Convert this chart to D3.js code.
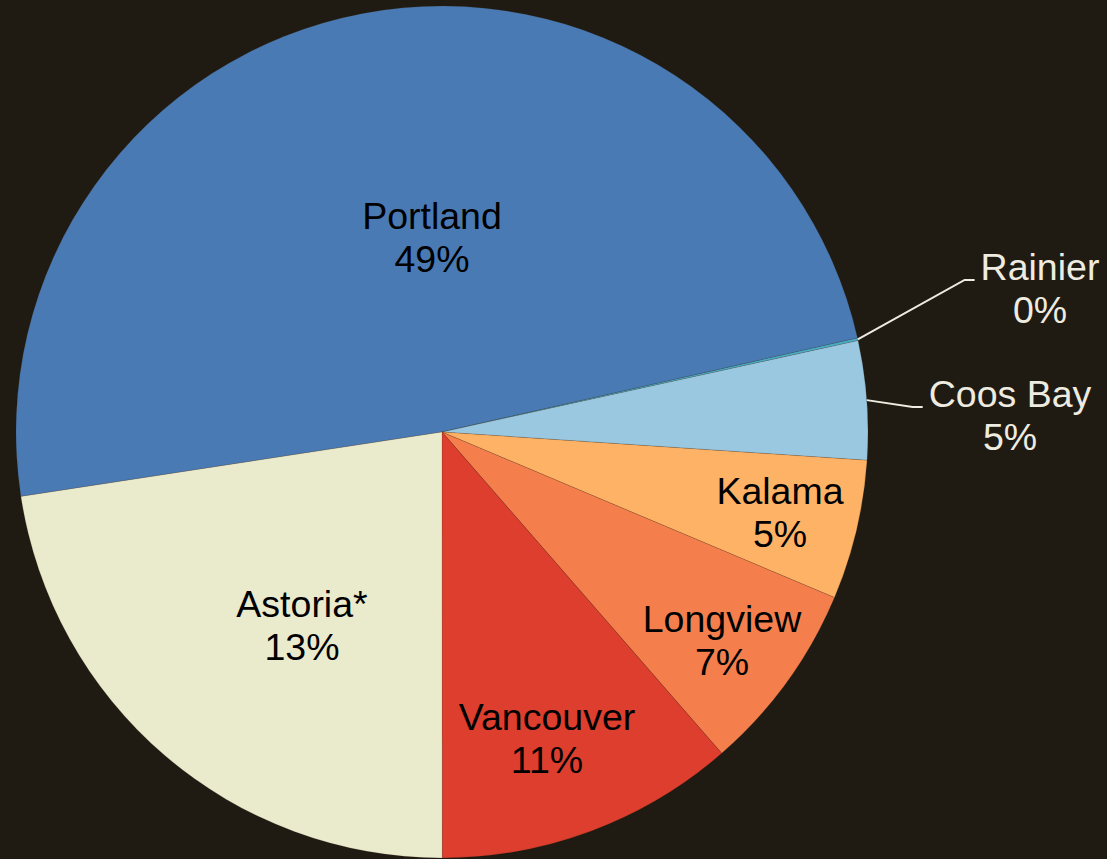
<!DOCTYPE html>
<html>
<head>
<meta charset="utf-8">
<script src="https://cdn.jsdelivr.net/npm/d3@7"></script>
<style>
  html, body { margin: 0; padding: 0; background: #1f1b12; }
  svg { display: block; }
</style>
</head>
<body>
<svg id="chart"></svg>
<script>
// slice data, clockwise starting with Portland
var ports = ["Portland", "Rainier", "Coos Bay", "Kalama", "Longview", "Vancouver", "Astoria*"];
var shares = [48.9, 0.1, 4.5, 5.3, 7.25, 11.4, 22.6];
var pctLabels = ["49%", "0%", "5%", "5%", "7%", "11%", "13%"];
var colors = ["#4a7ab4", "#4bacc6", "#9bc8e1", "#fdb266", "#f47f4d", "#dd3e2e", "#eaeacd"];

// label anchors (first line baseline) relative to pie centre
var labelPos = [[-10, -203], [598, -152], [568, -25], [338, 72], [280, 200], [105, 298], [-140, 185]];
var outside = [false, true, true, false, false, false, false];

var width = 1107, height = 859;
var cx = 442, cy = 432, radius = 426;
var lineGap = 42.5;

var svg = d3.select("#chart")
    .attr("width", width)
    .attr("height", height);

svg.append("rect")
    .attr("width", width)
    .attr("height", height)
    .style("fill", "#1f1b12");

var start = 261.3 * Math.PI / 180;
var pie = d3.pie()
    .sort(null)
    .startAngle(start)
    .endAngle(start + 2 * Math.PI)
    .value(function(d) { return d; });

var arc = d3.arc()
    .innerRadius(0)
    .outerRadius(radius);

var arcs = pie(shares);

var g = svg.append("g")
    .attr("transform", "translate(" + cx + "," + cy + ")");

g.selectAll("path.slice")
    .data(arcs)
    .enter()
    .append("path")
    .attr("class", "slice")
    .attr("d", arc)
    .style("fill", function(d, i) { return colors[i]; })
    .style("stroke", "rgba(60,40,20,0.25)")
    .style("stroke-width", 0.6);

var labels = g.selectAll("g.label")
    .data(arcs)
    .enter()
    .append("g")
    .attr("class", "label");

labels.append("text")
    .attr("x", function(d, i) { return labelPos[i][0]; })
    .attr("y", function(d, i) { return labelPos[i][1]; })
    .attr("text-anchor", "middle")
    .style("font-family", "'Liberation Sans', Arial, sans-serif")
    .style("font-size", "37.5px")
    .style("fill", function(d, i) { return outside[i] ? "#eeece1" : "#000"; })
    .each(function(d, i) {
      var t = d3.select(this);
      t.append("tspan")
          .attr("x", labelPos[i][0])
          .text(ports[i]);
      t.append("tspan")
          .attr("x", labelPos[i][0])
          .attr("dy", lineGap)
          .text(pctLabels[i]);
    });

// leader lines for the labels sitting outside the pie
labels.filter(function(d, i) { return outside[i]; })
    .each(function(d) {
      var i = arcs.indexOf(d);
      var mid = (d.startAngle + d.endAngle) / 2;
      var tw = d3.select(this).select("tspan").node().getComputedTextLength();
      var endX = labelPos[i][0] - tw / 2 - 6;
      var y = labelPos[i][1];
      var pts = [
        [radius * Math.sin(mid), -radius * Math.cos(mid)],
        [endX - 10, y],
        [endX, y]
      ];
      d3.select(this).append("path")
          .attr("d", d3.line()(pts))
          .style("fill", "none")
          .style("stroke", "#eeece1")
          .style("stroke-width", 2);
    });
</script>
</body>
</html>
